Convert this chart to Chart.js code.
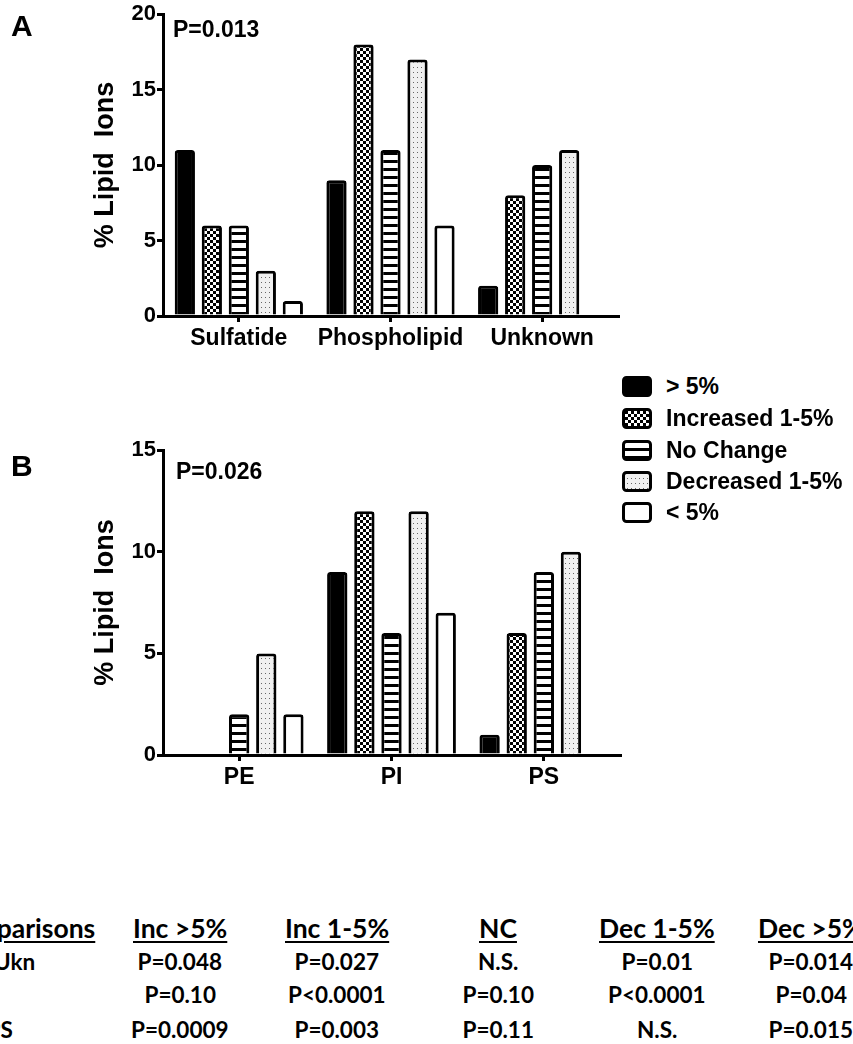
<!DOCTYPE html>
<html>
<head>
<meta charset="utf-8">
<script src="https://cdn.jsdelivr.net/npm/chart.js@4.4.0/dist/chart.umd.min.js"></script>
<style>
body { margin: 0; background: #fff; width: 853px; height: 1044px; overflow: hidden; position: relative; font-family: "Liberation Sans", Arial, sans-serif; color: #000; }
canvas.chart { position: absolute; left: 0; }
.panel { position: absolute; font-weight: bold; font-size: 30px; line-height: 1; }
.pval { position: absolute; font-weight: bold; font-size: 23px; line-height: 1; }
.leg-row { position: absolute; left: 622px; height: 24px; display: flex; align-items: center; white-space: nowrap; }
.leg-row canvas { margin-right: 14px; }
.leg-row span { font-weight: bold; font-size: 23px; }
.cell { position: absolute; font-family: Lato, "Open Sans", sans-serif; font-weight: bold; font-size: 22.5px; line-height: 1; white-space: nowrap; }
.head { font-size: 26.5px; text-decoration: underline; text-decoration-thickness: 2px; text-underline-offset: 3px; }
</style>
</head>
<body>
<canvas id="chartA" class="chart" width="640" height="360" style="top:0px"></canvas>
<canvas id="chartB" class="chart" width="640" height="363" style="top:436px"></canvas>
<div class="panel" style="left:11px; top:11px;">A</div>
<div class="panel" style="left:11px; top:451px;">B</div>
<div id="pA" class="pval" style="left:173px; top:18px;"></div>
<div id="pB" class="pval" style="left:176px; top:460px;"></div>
<div id="legend"></div>
<div id="table"></div>
<script>
// Panel A data
var categoriesA = ['Sulfatide', 'Phospholipid', 'Unknown'];
var gt5A = [11, 9, 2];
var inc15A = [6, 18, 8];
var noChangeA = [6, 11, 10];
var dec15A = [3, 17, 11];
var lt5A = [1, 6, 0];
var yTicksA = [0, 5, 10, 15, 20];
var pValueA = 'P=0.013';

// Panel B data
var categoriesB = ['PE', 'PI', 'PS'];
var gt5B = [0, 9, 1];
var inc15B = [0, 12, 6];
var noChangeB = [2, 6, 9];
var dec15B = [5, 12, 10];
var lt5B = [2, 7, 0];
var yTicksB = [0, 5, 10, 15];
var pValueB = 'P=0.026';

var seriesNames = ['> 5%', 'Increased 1-5%', 'No Change', 'Decreased 1-5%', '< 5%'];
var yTitle = '% Lipid  Ions';

// Comparison table
var tableHeaders = ['Comparisons', 'Inc >5%', 'Inc 1-5%', 'NC', 'Dec 1-5%', 'Dec >5%'];
var tableRow1 = ['Sulf vs Ukn', 'P=0.048', 'P=0.027', 'N.S.', 'P=0.01', 'P=0.014'];
var tableRow2 = ['PE vs PI', 'P=0.10', 'P<0.0001', 'P=0.10', 'P<0.0001', 'P=0.04'];
var tableRow3 = ['PI vs PS', 'P=0.0009', 'P=0.003', 'P=0.11', 'N.S.', 'P=0.015'];

// Fill patterns
function makePattern(kind) {
    var c = document.createElement('canvas');
    var g = c.getContext('2d');
    if (kind === 'solid') return '#000';
    if (kind === 'empty') return '#fff';
    if (kind === 'checker') {
        c.width = 6; c.height = 6;
        g.fillStyle = '#fff'; g.fillRect(0, 0, 6, 6);
        g.fillStyle = '#000'; g.fillRect(0, 0, 3, 3); g.fillRect(3, 3, 3, 3);
    } else if (kind === 'stripes') {
        c.width = 4; c.height = 8;
        g.fillStyle = '#fff'; g.fillRect(0, 0, 4, 8);
        g.fillStyle = '#000'; g.fillRect(0, 0, 4, 3);
    } else if (kind === 'dots') {
        c.width = 4; c.height = 5;
        g.fillStyle = '#f0f0f0'; g.fillRect(0, 0, 4, 5);
        g.fillStyle = '#666'; g.fillRect(1, 2, 1, 1);
    }
    return g.createPattern(c, 'repeat');
}
var fills = ['solid', 'checker', 'stripes', 'dots', 'empty'].map(makePattern);

function buildDatasets(series) {
    return series.map(function(values, i) {
        return {
            label: seriesNames[i],
            data: values,
            backgroundColor: fills[i],
            borderColor: '#000',
            borderWidth: 3,
            borderRadius: 3,
            borderSkipped: 'bottom',
            barPercentage: 0.75,
            categoryPercentage: 0.89
        };
    });
}

function makeChart(id, labels, series, yTicks, rightPad) {
    var yMax = yTicks[yTicks.length - 1];
    return new Chart(document.getElementById(id), {
        type: 'bar',
        data: { labels: labels, datasets: buildDatasets(series) },
        options: {
            responsive: false,
            animation: false,
            devicePixelRatio: 1,
            layout: { padding: { left: 0, top: 14, right: rightPad, bottom: 0 } },
            plugins: { legend: { display: false }, tooltip: { enabled: false } },
            scales: {
                x: {
                    grid: { display: true, offset: false, drawOnChartArea: false, drawTicks: true, tickLength: 6, color: '#000', lineWidth: 3 },
                    border: { display: true, color: '#000', width: 3 },
                    ticks: { color: '#000', font: { family: 'Liberation Sans', weight: 'bold', size: 23 }, padding: 3 },
                    afterFit: function(s) { s.height = 44; }
                },
                y: {
                    min: 0,
                    max: yMax,
                    afterBuildTicks: function(s) { s.ticks = yTicks.map(function(v) { return { value: v }; }); },
                    grid: { display: true, drawOnChartArea: false, drawTicks: true, tickLength: 6, color: '#000', lineWidth: 3 },
                    border: { display: true, color: '#000', width: 3 },
                    ticks: { color: '#000', font: { family: 'Liberation Sans', weight: 'bold', size: 22 }, padding: 1 },
                    title: { display: true, text: yTitle, color: '#000', font: { family: 'Liberation Sans', weight: 'bold', size: 27 }, padding: { top: 89, bottom: 0 } },
                    afterFit: function(s) { s.width = 163; }
                }
            }
        }
    });
}

makeChart('chartA', categoriesA, [gt5A, inc15A, noChangeA, dec15A, lt5A], yTicksA, 22);
makeChart('chartB', categoriesB, [gt5B, inc15B, noChangeB, dec15B, lt5B], yTicksB, 20);

document.getElementById('pA').textContent = pValueA;
document.getElementById('pB').textContent = pValueB;

// Legend
var legendTops = [386, 418, 450, 481, 512];
var legend = document.getElementById('legend');
seriesNames.forEach(function(name, i) {
    var row = document.createElement('div');
    row.className = 'leg-row';
    row.style.top = (legendTops[i] - 12) + 'px';
    var sw = document.createElement('canvas');
    sw.width = 30; sw.height = 21;
    var g = sw.getContext('2d');
    g.fillStyle = fills[i];
    g.strokeStyle = '#000';
    g.lineWidth = 3;
    g.beginPath();
    g.roundRect(1.5, 1.5, 27, 18, 3);
    g.fill();
    g.stroke();
    var label = document.createElement('span');
    label.textContent = name;
    row.appendChild(sw);
    row.appendChild(label);
    legend.appendChild(row);
});

// Table
var colCenters = [null, 180, 337, 498, 657, 811];
var firstColRight = [95, 35, -3, 13];
var rowCenters = [928, 962, 995, 1030];
var table = document.getElementById('table');
[tableHeaders, tableRow1, tableRow2, tableRow3].forEach(function(row, r) {
    row.forEach(function(text, c) {
        var d = document.createElement('div');
        d.className = 'cell' + (r === 0 ? ' head' : '');
        d.textContent = text;
        table.appendChild(d);
        var w = d.offsetWidth, h = d.offsetHeight;
        var left = c === 0 ? firstColRight[r] - w : colCenters[c] - w / 2;
        d.style.left = left + 'px';
        d.style.top = (rowCenters[r] - h / 2) + 'px';
    });
});
</script>
</body>
</html>
